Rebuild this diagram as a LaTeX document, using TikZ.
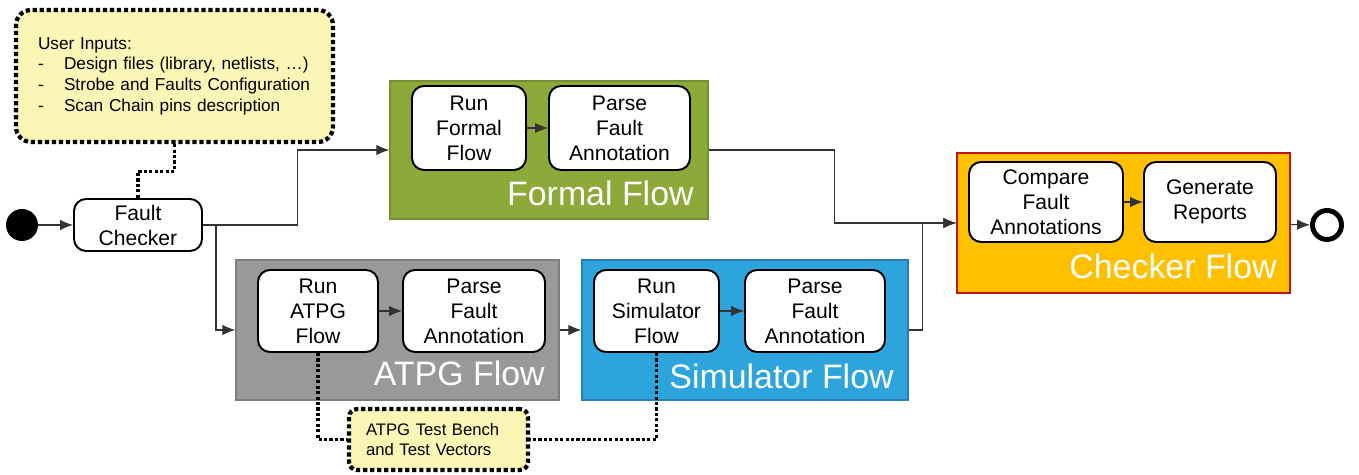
\documentclass[tikz,border=0pt]{standalone}
\usepackage{fontspec}
\setmainfont{Liberation Sans}
\usetikzlibrary{arrows.meta, calc}

\definecolor{formalgreen}{RGB}{140,169,57}
\definecolor{formaledge}{RGB}{116,142,50}
\definecolor{atpggray}{RGB}{153,153,153}
\definecolor{atpgedge}{RGB}{125,125,125}
\definecolor{simblue}{RGB}{46,164,220}
\definecolor{simedge}{RGB}{40,126,182}
\definecolor{checkeramber}{RGB}{255,192,0}
\definecolor{checkeredge}{RGB}{192,20,20}
\definecolor{noteyellow}{RGB}{250,247,182}

\begin{document}
\begin{tikzpicture}[x=0.02cm, y=-0.02cm,
    stepbox/.style={draw, line width=1.1pt, fill=white, rounded corners=0.24cm, align=center, inner sep=0pt, font=\fontsize{12}{14.2}\selectfont},
    flowbox/.style={draw, line width=0.8pt, inner sep=0pt},
    flowlabel/.style={anchor=east, text=white, inner sep=0pt, font=\fontsize{19.3}{22}\selectfont},
    link/.style={draw=black!80, line width=0.6pt, -{Latex[length=2.6mm,width=2.1mm]}},
    notebox/.style={draw, fill=noteyellow, line width=2.4pt, dash pattern=on 2.4pt off 1.6pt, align=left, inner sep=0pt},
    noteline/.style={draw, line width=1.8pt, dash pattern=on 1.8pt off 1.3pt}]

    \useasboundingbox (0,0) rectangle (1359,475);

    % start / end
    \node (start) [circle, fill=black, minimum size=0.64cm, inner sep=0pt] at (22,225) {};
    \node (fc) [stepbox, minimum width=2.56cm, minimum height=1.04cm] at (138,225) {Fault\\Checker};
    \node (stop) [circle, draw, line width=2.8pt, fill=white, minimum size=0.58cm, inner sep=0pt] at (1327,225) {};

    % user inputs
    \node (inputs) [notebox, rounded corners=0.3cm, minimum width=6.34cm, minimum height=2.64cm, text width=5.46cm,
        font=\fontsize{9.8}{11.8}\selectfont] at (174.5,76)
        {User Inputs:\\
         \makebox[0.52cm][l]{-}Design files (library, netlists, …)\\
         \makebox[0.52cm][l]{-}Strobe and Faults Configuration\\
         \makebox[0.52cm][l]{-}Scan Chain pins description};

    % containers
    \node (formal) [flowbox, fill=formalgreen, draw=formaledge, minimum width=6.36cm, minimum height=2.76cm] at (549,150) {};
    \node (atpg) [flowbox, fill=atpggray, draw=atpgedge, minimum width=6.46cm, minimum height=2.8cm] at (397.5,330) {};
    \node (sim) [flowbox, fill=simblue, draw=simedge, minimum width=6.52cm, minimum height=2.8cm] at (745,330) {};
    \node (checker) [flowbox, fill=checkeramber, draw=checkeredge, minimum width=6.66cm, minimum height=2.8cm] at (1123.5,223) {};

    \node (formallbl) [flowlabel] at (694,193) {Formal Flow};
    \node (atpglbl) [flowlabel] at (545,373) {ATPG Flow};
    \node (simlbl) [flowlabel] at (894,376) {Simulator Flow};
    \node (checkerlbl) [flowlabel] at (1277,266) {Checker Flow};

    % steps
    \node (runf) [stepbox, minimum width=2.28cm, minimum height=1.68cm] at (469,128) {Run\\Formal\\Flow};
    \node (parsef) [stepbox, minimum width=2.82cm, minimum height=1.68cm] at (619.5,128) {Parse\\Fault\\Annotation};
    \node (runa) [stepbox, minimum width=2.4cm, minimum height=1.64cm] at (318,311) {Run\\ATPG\\Flow};
    \node (parsea) [stepbox, minimum width=2.84cm, minimum height=1.64cm] at (474,311) {Parse\\Fault\\Annotation};
    \node (runs) [stepbox, minimum width=2.5cm, minimum height=1.64cm] at (656.5,311) {Run\\Simulator\\Flow};
    \node (parses) [stepbox, minimum width=2.8cm, minimum height=1.64cm] at (815,311) {Parse\\Fault\\Annotation};
    \node (cmp) [stepbox, minimum width=3.08cm, minimum height=1.6cm] at (1046,202) {Compare\\Fault\\Annotations};
    \node (gen) [stepbox, minimum width=2.64cm, minimum height=1.6cm] at (1210,202) {Generate\\Reports};

    % test bench
    \node (bench) [notebox, rounded corners=0.16cm, minimum width=3.58cm, minimum height=1.22cm, text width=2.9cm,
        font=\fontsize{9.5}{11.9}\selectfont] at (438.5,439.5)
        {ATPG Test Bench\\and Test Vectors};

    % connectors
    \coordinate (split) at (216,225);
    \draw[link] (start) -- (fc);
    \draw[link] (fc.east) -- ++(95,0) |- (formal.west);
    \draw[link] (split) |- (atpg.west);
    \draw[link] (formal.east) -- ++(126,0) |- (checker.west);
    \draw[link] (sim.east) -- ++(14,0) |- (checker.west);
    \draw[link] (atpg) -- (sim);
    \draw[link] (checker) -- (stop);
    \foreach \a/\b in {runf/parsef, runa/parsea, runs/parses, cmp/gen}
        \draw[link] (\a) -- (\b);

    \draw[noteline] (inputs.south) -- ++(0,27) -| (fc.north);
    \draw[noteline] (runa.south) |- (bench.west);
    \draw[noteline] (runs.south) |- (bench.east);

\end{tikzpicture}
\end{document}
